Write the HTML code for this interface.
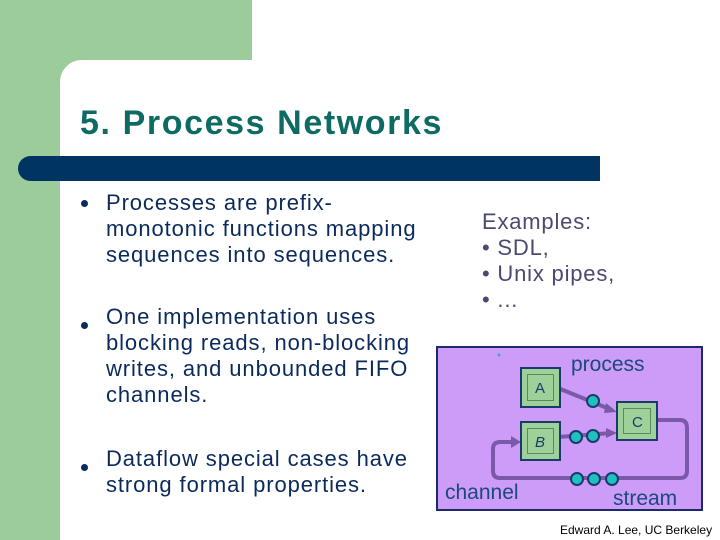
<!DOCTYPE html>
<html><head><style>
body{margin:0;width:720px;height:540px;position:relative;overflow:hidden;background:#fff;font-family:"Liberation Sans",sans-serif}
.a{position:absolute;white-space:nowrap}
.t{font-size:22px;color:#0b2a5c;line-height:26px;letter-spacing:0.9px}
.dot{position:absolute;width:7px;height:7px;border-radius:50%;background:#0b2a5c}
.e{font-size:22px;color:#4a4a70;line-height:26px;letter-spacing:0.8px}
</style></head><body>
<div class="a" style="left:0;top:0;width:252px;height:90px;background:#9ccc9c"></div>
<div class="a" style="left:0;top:0;width:60px;height:540px;background:#9ccc9c"></div>
<div class="a" style="left:60px;top:60px;width:660px;height:480px;background:#fff;border-top-left-radius:22px"></div>
<div class="a" style="left:80px;top:104px;font-size:34px;font-weight:bold;color:#0d6b63;letter-spacing:1.6px">5. Process Networks</div>
<div class="a" style="left:18px;top:156px;width:582px;height:25px;background:#003462;border-radius:13px 0 0 13px"></div>

<div class="dot" style="left:81px;top:200px"></div>
<div class="a t" style="left:106px;top:190px">Processes are prefix-<br>monotonic functions mapping<br>sequences into sequences.</div>
<div class="dot" style="left:81px;top:322px"></div>
<div class="a t" style="left:106px;top:304px">One implementation uses<br>blocking reads, non-blocking<br>writes, and unbounded FIFO<br>channels.</div>
<div class="dot" style="left:81px;top:464px"></div>
<div class="a t" style="left:106px;top:446px">Dataflow special cases have<br>strong formal properties.</div>

<div class="a e" style="left:482px;top:209px">Examples:<br>• SDL,<br>• Unix pipes,<br>• ...</div>

<svg class="a" style="left:0;top:0" width="720" height="540">
<rect x="437" y="347" width="265" height="163" fill="#cc9cf8" stroke="#1a2a6a" stroke-width="2"/>
<g stroke="#7a5aa8" stroke-width="4" fill="none">
<line x1="558" y1="388" x2="612" y2="410"/>
<line x1="558" y1="437" x2="612" y2="433"/>
<path d="M657 420 H680 Q687 420 687 428 V471 Q687 478 680 478 H500 Q493 478 493 471 V449 Q493 442 500 442 H514"/>
</g>
<g fill="#7a5aa8"><polygon points="617,412 606,403 604,413"/><polygon points="617,433 606,428 606,438"/><polygon points="521,442 511,436 511,448"/></g>
<g stroke="#1a3a6a" stroke-width="2" fill="#9ed09a">
<rect x="521" y="368" width="39" height="39"/><rect x="521" y="422" width="39" height="38"/><rect x="617" y="402" width="40" height="38"/>
</g>
<g fill="#5a8a60"><rect x="527" y="374" width="27" height="27"/><rect x="527" y="428" width="27" height="26"/><rect x="623" y="408" width="28" height="26"/></g>
<g fill="#9ed09a"><rect x="528" y="375" width="25" height="25"/><rect x="528" y="429" width="25" height="24"/><rect x="624" y="409" width="26" height="24"/></g>
<g font-size="15" fill="#1a3a6a" font-family="Liberation Sans"><text x="535" y="393">A</text><text x="535" y="447" font-style="italic">B</text><text x="632" y="427">C</text></g>
<g fill="#20c0c0" stroke="#1a3a6a" stroke-width="2">
<circle cx="593" cy="401" r="6"/><circle cx="576" cy="437" r="6"/><circle cx="593" cy="436" r="6"/>
<circle cx="577" cy="479" r="6"/><circle cx="594" cy="479" r="6"/><circle cx="612" cy="479" r="6"/>
</g>
<g font-size="21" fill="#1a4a7a" font-family="Liberation Sans"><text x="571" y="371">process</text><text x="445" y="499">channel</text><text x="613" y="505">stream</text></g>
<circle cx="499" cy="355" r="1.5" fill="#3ac"/>
<text x="560" y="534" font-size="12" fill="#000" font-family="Liberation Sans">Edward A. Lee, UC Berkeley</text>
</svg>
</body></html>
